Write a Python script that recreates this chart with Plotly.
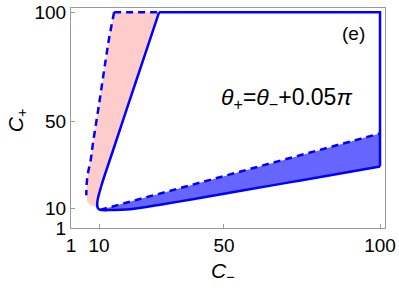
import plotly.graph_objects as go

# Left (dashed) boundary of the pink region, top -> bottom
dash_left_cm = [14.8, 13.2, 12.1, 10.0, 8.0, 7.3, 6.4, 6.0, 5.9, 6.2, 7.0, 8.2, 9.4]
dash_left_cp = [100.0, 88.1, 78.1, 58.0, 39.6, 32.2, 26.0, 21.0, 16.0, 13.2, 11.8, 11.0, 10.8]

# Solid boundary: left curve (top -> bend) and bottom curve (bend -> right edge)
solid_left_cm = [29.2, 24.1, 19.8, 14.5, 11.0, 9.5, 9.4, 9.7, 10.3]
solid_left_cp = [100.0, 78.1, 59.7, 36.8, 21.7, 13.8, 11.1, 9.9, 9.3]
solid_bot_cm = [10.3, 13.0, 20.0, 30.0, 40.0, 50.0, 60.0, 70.0, 80.0, 90.0, 100.0]
solid_bot_cp = [9.3, 9.2, 9.6, 11.8, 14.2, 16.7, 19.2, 21.7, 24.2, 26.7, 29.2]
# straight part of the boundary: right edge and top edge
solid_box_cm = [100.0, 100.0, 29.2]
solid_box_cp = [29.2, 100.0, 100.0]

# Upper dashed boundary of the blue region
dash_blue_cm = [10.3, 20.0, 30.0, 40.0, 50.0, 60.0, 70.0, 80.0, 90.0, 100.0]
dash_blue_cp = [9.3, 13.1, 17.0, 20.9, 24.8, 28.7, 32.6, 36.5, 40.5, 44.4]

x_ticks = [1, 10, 50, 100]
y_ticks = [1, 10, 50, 100]

BLUE = "#0000ff"
FONT = "Arial, Liberation Sans, sans-serif"
DASH = "7px,5px"

pink_x = dash_left_cm + solid_left_cm[::-1] + [dash_left_cm[0]]
pink_y = dash_left_cp + solid_left_cp[::-1] + [dash_left_cp[0]]

blue_x = dash_blue_cm + solid_bot_cm[::-1]
blue_y = dash_blue_cp + solid_bot_cp[::-1]

fig = go.Figure()
fig.add_trace(go.Scatter(x=pink_x, y=pink_y, fill="toself", mode="none",
                         fillcolor="rgba(255,0,0,0.2)", hoverinfo="skip"))
fig.add_trace(go.Scatter(x=blue_x, y=blue_y, fill="toself", mode="none",
                         fillcolor="rgba(0,0,255,0.6)", hoverinfo="skip"))
# dashed lines
fig.add_trace(go.Scatter(x=dash_left_cm[:-4], y=dash_left_cp[:-4], mode="lines",
                         line=dict(color=BLUE, width=2.5, dash=DASH, shape="spline")))
fig.add_trace(go.Scatter(x=[dash_left_cm[0], solid_left_cm[0]],
                         y=[dash_left_cp[0], solid_left_cp[0]],
                         mode="lines", line=dict(color=BLUE, width=2.5, dash=DASH)))
fig.add_trace(go.Scatter(x=dash_blue_cm, y=dash_blue_cp, mode="lines",
                         line=dict(color=BLUE, width=2.5, dash=DASH)))
# solid boundary
fig.add_trace(go.Scatter(x=solid_left_cm + solid_bot_cm[1:], y=solid_left_cp + solid_bot_cp[1:],
                         mode="lines", line=dict(color=BLUE, width=2.5, shape="spline",
                                                 smoothing=0.8)))
fig.add_trace(go.Scatter(x=solid_box_cm, y=solid_box_cp, mode="lines",
                         line=dict(color=BLUE, width=2.5)))

axis_common = dict(showgrid=False, zeroline=False, showline=True, linecolor="#9a9a9a",
                   linewidth=1, mirror=True, ticks="inside", ticklen=4, tickcolor="#9a9a9a",
                   automargin=False,
                   tickfont=dict(family=FONT, size=19, color="black"))
fig.update_xaxes(range=[0.99, 101.6], tickvals=x_ticks, ticktext=[str(v) for v in x_ticks],
                 **axis_common)
fig.update_yaxes(range=[0.99, 102], tickvals=y_ticks, ticktext=[str(v) for v in y_ticks],
                 **axis_common)

ann_common = dict(xref="paper", yref="paper", showarrow=False, xanchor="center", yanchor="middle")
fig.add_annotation(x=0.901, y=0.886, text="(e)",
                   font=dict(family=FONT, size=19, color="black"), **ann_common)
fig.add_annotation(x=0.685, y=0.59,
                   text="<i>θ</i><sub>+</sub>=<i>θ</i><sub>−</sub>+0.05<i>π</i>",
                   font=dict(family=FONT, size=23, color="black"), **ann_common)
fig.add_annotation(x=0.484, y=-0.2, text="<i>C</i><sub>−</sub>",
                   font=dict(family=FONT, size=21, color="black"), **ann_common)
fig.add_annotation(x=-0.172, y=0.49, textangle=-90, text="<i>C</i><sub>+</sub>",
                   font=dict(family=FONT, size=21, color="black"), **ann_common)

fig.update_layout(width=399, height=288, showlegend=False,
                  margin=dict(l=71, r=14, t=8, b=60),
                  plot_bgcolor="white", paper_bgcolor="white")

fig.write_html("out.html", config={"displayModeBar": False},
               post_script="document.body.style.margin='0';")
